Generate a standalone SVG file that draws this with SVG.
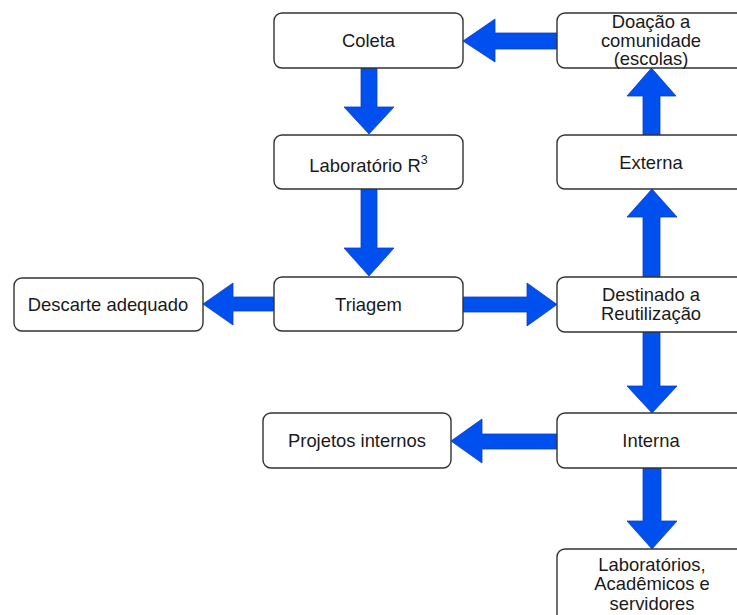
<svg xmlns="http://www.w3.org/2000/svg" width="737" height="615" viewBox="0 0 737 615">
<style>
.box{fill:#fff;stroke:#333;stroke-width:1.4}
.t{font-family:"Liberation Sans",Arial,sans-serif;font-size:18.4px;fill:#1a1a1a;text-anchor:middle}
.arr{fill:#0050ef;stroke:#0a3fc4;stroke-width:0.8;stroke-linejoin:miter}
</style>
<rect width="737" height="615" fill="#fff"/>
<g id="connectors">
<polygon class="arr" points="361,68 377,68 377,107 394,107 369,134 344,107 361,107"/>
<polygon class="arr" points="361,189 377,189 377,248 394,248 369,276 344,248 361,248"/>
<polygon class="arr" points="557,33 557,49 495,49 495,62 463,41 495,19 495,33"/>
<polygon class="arr" points="643,135 660,135 660,96 676,96 651.5,68 627,96 643,96"/>
<polygon class="arr" points="643,277 660,277 660,217 677,217 652,189 627,217 643,217"/>
<polygon class="arr" points="274,297 274,311 233,311 233,325 203,304 233,283 233,297"/>
<polygon class="arr" points="463,297 463,312 527,312 527,326 557,304.5 527,283 527,297"/>
<polygon class="arr" points="643,332 660,332 660,386 677,386 652,413 627,386 643,386"/>
<polygon class="arr" points="557,434 557,449 482,449 482,463 451,441 482,419 482,434"/>
<polygon class="arr" points="643,468 661,468 661,521 677,521 652,549 627,521 643,521"/>
</g>
<g id="coleta"><rect class="box" x="274" y="13" width="189" height="55" rx="8"/><text class="t" x="368.5" y="47">Coleta</text></g>
<g id="laboratorio"><rect class="box" x="274" y="135" width="189" height="54" rx="8"/><text class="t" x="368.5" y="172">Laboratório R<tspan font-size="12.5" dy="-8">3</tspan></text></g>
<g id="triagem"><rect class="box" x="274" y="277" width="189" height="54" rx="8"/><text class="t" x="368.5" y="311">Triagem</text></g>
<g id="descarte"><rect class="box" x="14" y="278" width="189" height="53" rx="8"/><text class="t" x="108" y="311">Descarte adequado</text></g>
<g id="doacao"><rect class="box" x="557" y="13" width="189" height="55" rx="8"/><text class="t" x="651" y="28">Doação a</text><text class="t" x="651" y="46.5">comunidade</text><text class="t" x="651" y="65">(escolas)</text></g>
<g id="externa"><rect class="box" x="557" y="135" width="189" height="54" rx="8"/><text class="t" x="651" y="169">Externa</text></g>
<g id="destinado"><rect class="box" x="557" y="277" width="189" height="55" rx="8"/><text class="t" x="651" y="301">Destinado a</text><text class="t" x="651" y="320">Reutilização</text></g>
<g id="interna"><rect class="box" x="557" y="413" width="189" height="55" rx="8"/><text class="t" x="651" y="447">Interna</text></g>
<g id="projetos"><rect class="box" x="263" y="413" width="188" height="55" rx="8"/><text class="t" x="357" y="447">Projetos internos</text></g>
<g id="laboratorios"><rect class="box" x="557" y="549" width="189" height="74" rx="8"/><text class="t" x="652" y="571" font-size="19.2">Laboratórios,</text><text class="t" x="652" y="590" font-size="19.2">Acadêmicos e</text><text class="t" x="652" y="609.5" font-size="19.2">servidores</text></g>
</svg>
